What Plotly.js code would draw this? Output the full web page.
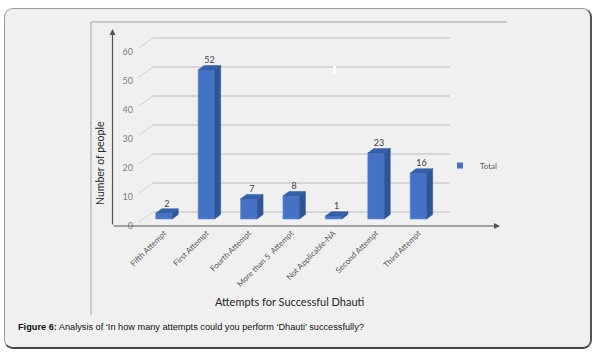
<!DOCTYPE html>
<html><head><meta charset="utf-8">
<script src="https://cdn.plot.ly/plotly-3.0.1.min.js"></script>
<style>
html,body{margin:0;padding:0;background:#fff;}
#frame{position:absolute;left:4px;top:8px;width:585px;height:338px;background:#f0f0f0;border:1px solid #9a9a9a;border-right:2px solid #555;border-bottom:2px solid #444;border-radius:9px;}
#chart{position:absolute;left:0;top:0;width:599px;height:355px;}
</style></head>
<body>
<div id="frame"></div>
<div id="chart"></div>
<script>
var categories = ["Fifth Attempt","First Attempt","Fourth Attempt","More than 5  Attempt","Not Applicable-NA","Second Attempt","Third Attempt"];
var values = [2, 52, 7, 8, 1, 23, 16];
var yTicks = [0, 10, 20, 30, 40, 50, 60];
var seriesName = "Total";

var W = 599, H = 355;
var L = 153, R = 450, T = 30, B = 226;
var xr = [-0.259, 6.745];
var yr = [-2.44, 65.97];
var y2r = [-4.83, 62.76];
var pxPerX = (R - L) / (xr[1] - xr[0]);
var pxPerY = (B - T) / (yr[1] - yr[0]);
var pxPerY2 = (B - T) / (y2r[1] - y2r[0]);
var dx = 6 / pxPerX, dy = 4.5 / pxPerY, hw = 0.195;

var idx = categories.map(function(c, i){ return i; });
var sideX = [], sideY = [], topX = [], topY = [];
values.forEach(function(v, i){
  sideX.push(i+hw, i+hw+dx, i+hw+dx, i+hw, i+hw, null);
  sideY.push(0, dy, v+dy, v, 0, null);
  topX.push(i-hw, i+hw, i+hw+dx, i-hw+dx, i-hw, null);
  topY.push(v, v, v+dy, v+dy, v, null);
});

var traces = [
  {type:'scatter', x:sideX, y:sideY, mode:'lines', fill:'toself', fillcolor:'#2f5597', line:{width:0.5,color:'#2f5597'}, showlegend:false, hoverinfo:'skip'},
  {type:'scatter', x:topX, y:topY, mode:'lines', fill:'toself', fillcolor:'#3560ac', line:{width:0.5,color:'#2f5597'}, showlegend:false, hoverinfo:'skip'},
  {type:'bar', x:idx, y:values, width:2*hw, name:seriesName, marker:{color:'#4472c4', line:{color:'#6a92d8', width:0.6}}, showlegend:false},
  {type:'scatter', x:idx.map(function(i){return i+dx/2;}), y:values.map(function(v){return v+dy;}), mode:'text', text:values.map(String), textposition:'top center', textfont:{family:'Lato, Open Sans, sans-serif', size:9, color:'#404040'}, showlegend:false, hoverinfo:'skip'},
  {type:'scatter', x:[null], y:[null], mode:'markers', name:seriesName, marker:{symbol:'square', size:6, color:'#4472c4'}, showlegend:true, hoverinfo:'skip'},
  {type:'scatter', x:[0], y:[0], yaxis:'y2', mode:'markers', marker:{opacity:0}, showlegend:false, hoverinfo:'skip'}
];

var shapes = yTicks.map(function(v){
  return {type:'line', xref:'paper', yref:'y2', x0:-14/(R-L), x1:0, y0:v - 10/pxPerY2, y1:v, line:{color:'#d0d0d0', width:1}};
});
shapes.push({type:'line', xref:'paper', yref:'paper', x0:(91-L)/(R-L), x1:(91-L)/(R-L), y0:(B-22)/(B-T), y1:(B-315)/(B-T), line:{color:'#a0a0a0', width:1}});
shapes.push({type:'line', xref:'paper', yref:'paper', x0:(91-L)/(R-L), x1:(507-L)/(R-L), y0:(B-22)/(B-T), y1:(B-22)/(B-T), line:{color:'#a0a0a0', width:1}});
shapes.push({type:'rect', xref:'paper', yref:'paper', x0:(333-L)/(R-L), x1:(336-L)/(R-L), y0:(B-66)/(B-T), y1:(B-74)/(B-T), fillcolor:'#ffffff', line:{width:0}});

var px = function(x){ return (x - L)/(R - L); };
var py = function(y){ return (B - y)/(B - T); };

var annotations = [
  {xref:'paper', yref:'paper', x:px(112.5), y:py(29), ax:0, ay:197, axref:'pixel', ayref:'pixel', showarrow:true, arrowhead:2, arrowsize:1, arrowwidth:1.2, arrowcolor:'#555', text:''},
  {xref:'paper', yref:'paper', x:px(500), y:py(226), ax:-388, ay:0, showarrow:true, arrowhead:2, arrowsize:1, arrowwidth:1.2, arrowcolor:'#555', text:''},
  {xref:'paper', yref:'paper', x:px(100), y:py(163), xanchor:'center', yanchor:'middle', showarrow:false, textangle:-90, text:'Number of people', font:{family:'Lato, Open Sans, sans-serif', size:10.5, color:'#262626'}},
  {xref:'paper', yref:'paper', x:px(290), y:py(301), xanchor:'center', yanchor:'middle', showarrow:false, text:'Attempts for Successful Dhauti', font:{family:'Lato, Open Sans, sans-serif', size:11, color:'#262626'}},
  {xref:'paper', yref:'paper', x:px(16), y:py(327), xanchor:'left', yanchor:'middle', showarrow:false, text:'<b>Figure 6:</b> Analysis of ‘In how many attempts could you perform ‘Dhauti’ successfully?', font:{family:'Liberation Sans, Arial, sans-serif', size:9.2, color:'#111'}}
];

var layout = {
  width:W, height:H,
  margin:{l:L, r:W-R, t:T, b:H-B, pad:0},
  paper_bgcolor:'rgba(0,0,0,0)', plot_bgcolor:'rgba(0,0,0,0)',
  showlegend:true,
  legend:{x:px(440), y:py(151), xanchor:'left', yanchor:'top', bgcolor:'rgba(0,0,0,0)', font:{family:'Lato, Open Sans, sans-serif', size:8, color:'#595959'}, itemwidth:30},
  xaxis:{range:xr, tickvals:idx, ticktext:categories, tickangle:-45, showgrid:false, zeroline:false, showline:false, ticks:'', automargin:false, tickfont:{family:'Lato, Open Sans, sans-serif', size:8, color:'#595959'}},
  yaxis:{range:yr, showgrid:false, zeroline:false, showline:false, showticklabels:false, ticks:'', automargin:false},
  yaxis2:{range:y2r, overlaying:'y', side:'left', tickvals:yTicks, ticktext:yTicks.map(String), showgrid:true, gridcolor:'#d6d6d6', gridwidth:1.3, zeroline:false, showline:false, ticks:'', ticklabelshift:14, ticklabelstandoff:19, automargin:false, tickfont:{family:'Lato, Open Sans, sans-serif', size:9, color:'#7f7f7f'}},
  shapes:shapes,
  annotations:annotations,
  bargap:0.5
};

Plotly.newPlot('chart', traces, layout, {displayModeBar:false, staticPlot:true});
</script>
</body></html>
